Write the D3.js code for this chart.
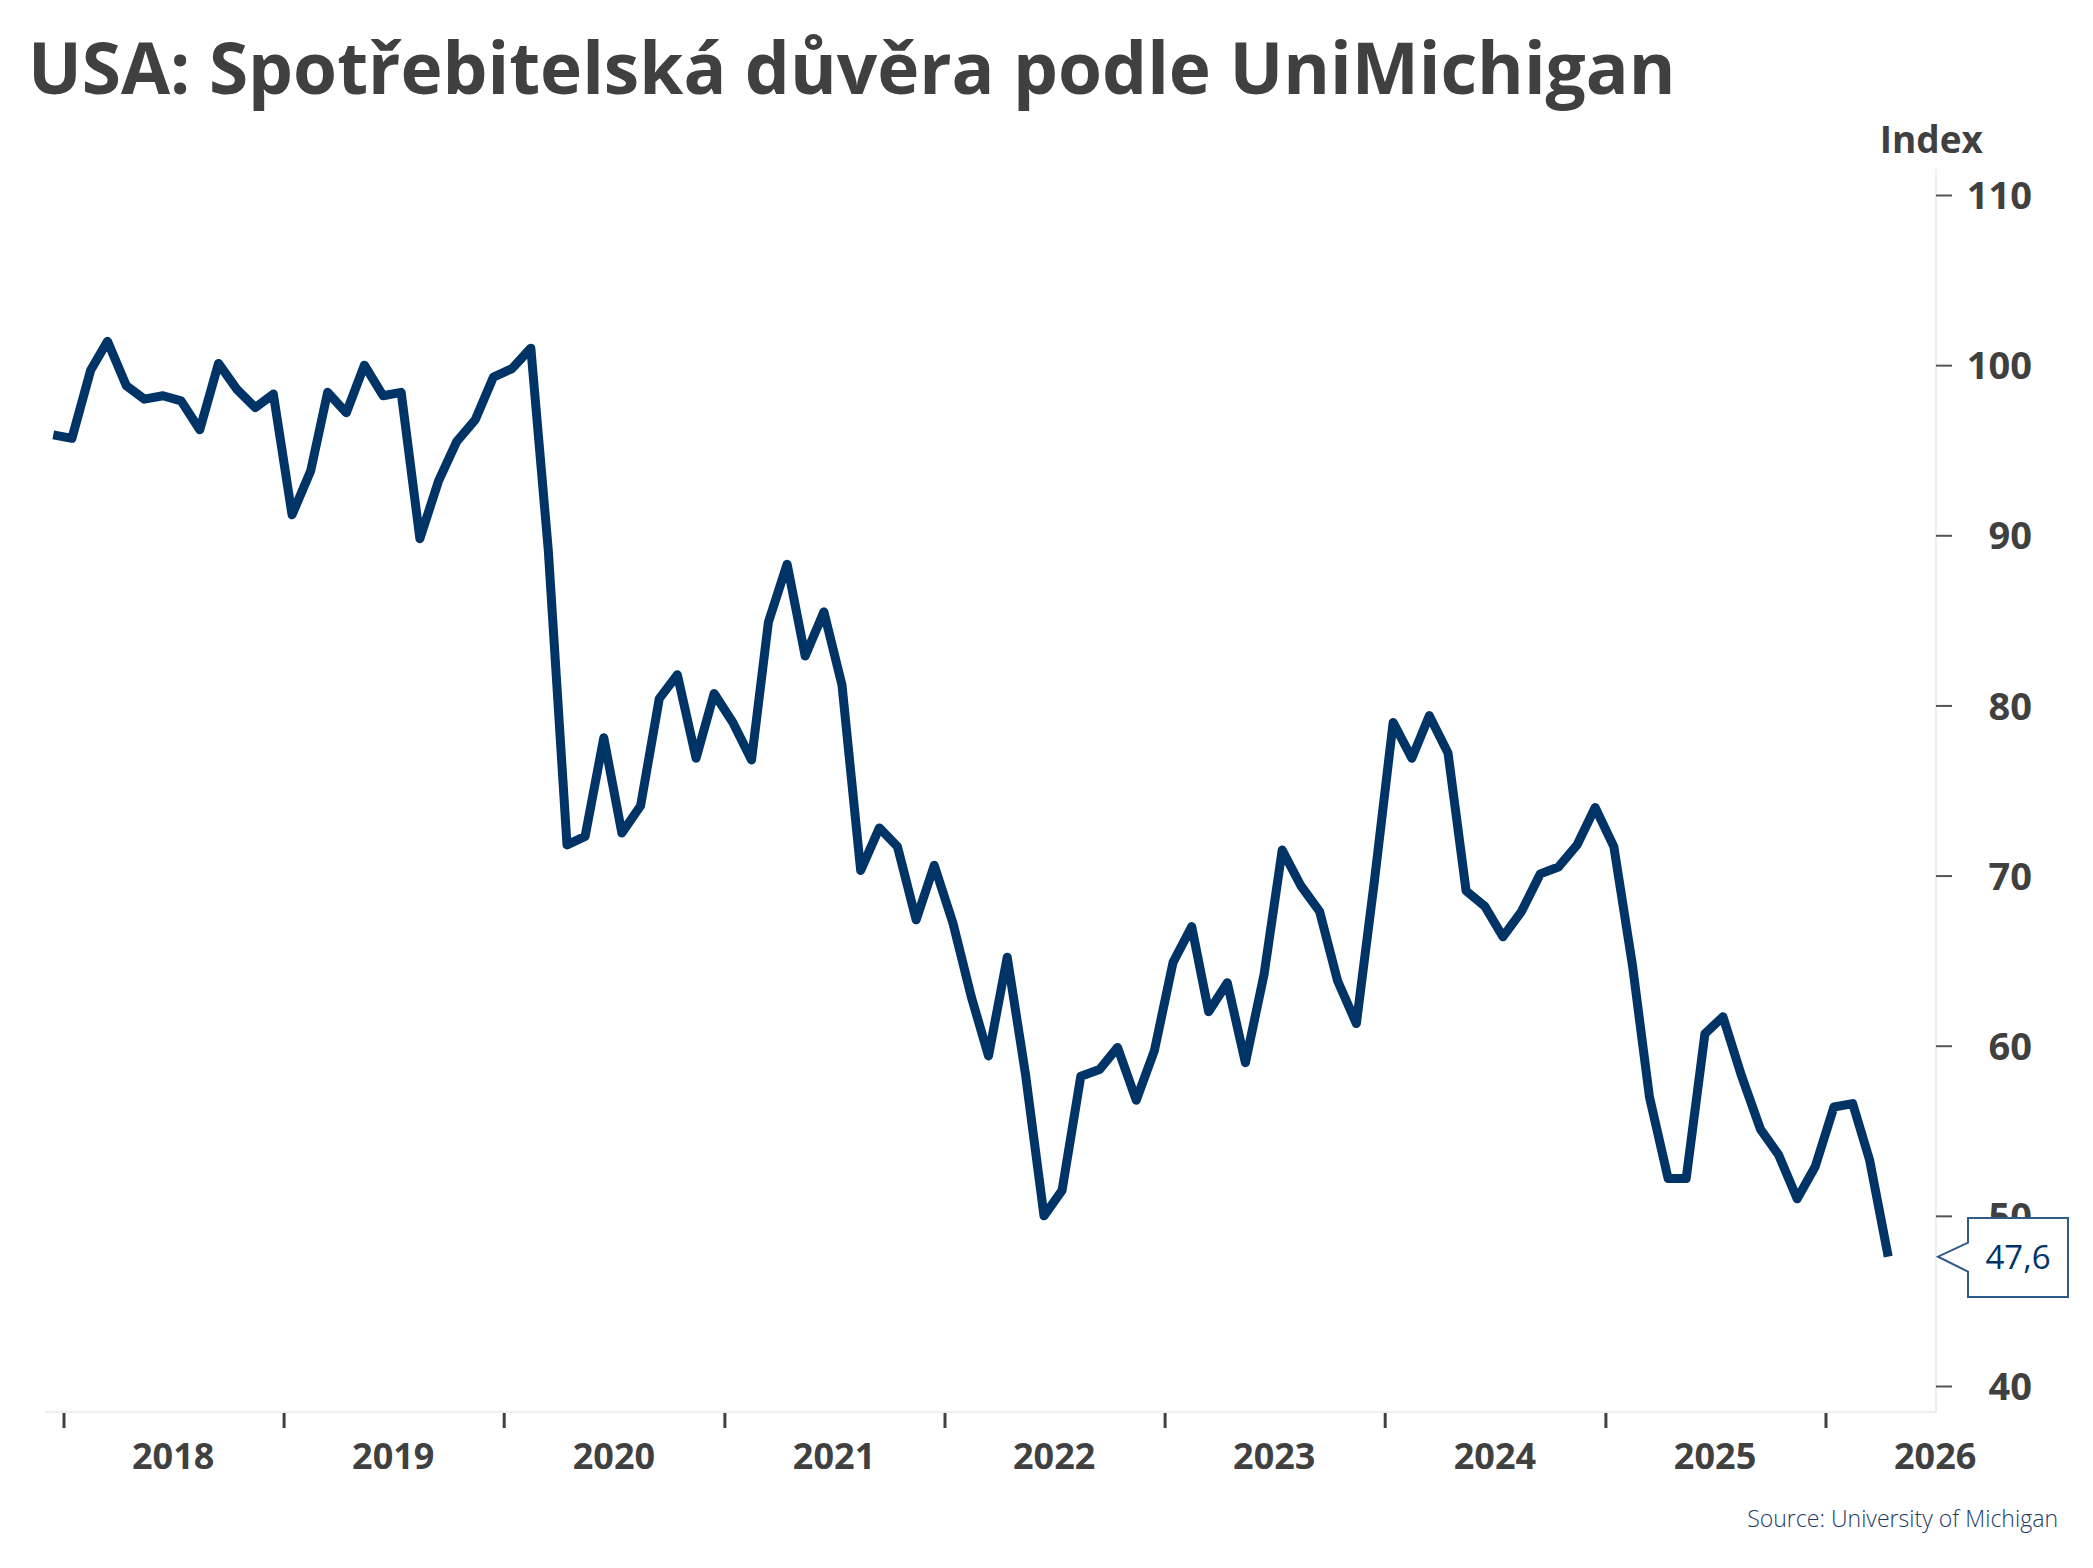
<!DOCTYPE html>
<html lang="cs">
<head>
<meta charset="utf-8">
<title>USA: Spotřebitelská důvěra podle UniMichigan</title>
<style>
  body { margin: 0; background: #fff; }
  svg { display: block; font-family: "Open Sans", "Noto Sans", sans-serif; }
  .axis path { stroke: #efefef; stroke-width: 2px; }
  .y-axis line { stroke: #555; stroke-width: 2px; }
  .x-axis line { stroke: #404040; stroke-width: 3px; }
  .axis text { fill: #404040; font-weight: 700; font-family: "Open Sans", "Noto Sans", sans-serif; }
  .line { fill: none; stroke: #003366; stroke-width: 9px; stroke-linejoin: round; }
</style>
</head>
<body>
<svg width="2093" height="1568"></svg>
<script src="https://cdn.jsdelivr.net/npm/d3@7/dist/d3.min.js"></script>
<script>
// monthly index, Dec 2017 .. Apr 2026
const startMonth = [2017, 11];
const values = [
  95.9,
  95.7, 99.7, 101.4, 98.8, 98.0, 98.2, 97.9, 96.2, 100.1, 98.6, 97.5, 98.3,
  91.2, 93.8, 98.4, 97.2, 100.0, 98.2, 98.4, 89.8, 93.2, 95.5, 96.8, 99.3,
  99.8, 101.0, 89.1, 71.8, 72.3, 78.1, 72.5, 74.1, 80.4, 81.8, 76.9, 80.7,
  79.0, 76.8, 84.9, 88.3, 82.9, 85.5, 81.2, 70.3, 72.8, 71.7, 67.4, 70.6,
  67.2, 62.8, 59.4, 65.2, 58.4, 50.0, 51.5, 58.2, 58.6, 59.9, 56.8, 59.7,
  64.9, 67.0, 62.0, 63.7, 59.0, 64.2, 71.5, 69.4, 67.9, 63.8, 61.3, 69.7,
  79.0, 76.9, 79.4, 77.2, 69.1, 68.2, 66.4, 67.9, 70.1, 70.5, 71.8, 74.0,
  71.7, 64.7, 57.0, 52.2, 52.2, 60.7, 61.7, 58.2, 55.1, 53.6, 51.0, 52.9,
  56.4, 56.6, 53.3, 47.6
];
const years = [2018, 2019, 2020, 2021, 2022, 2023, 2024, 2025, 2026];
const yTicks = [40, 50, 60, 70, 80, 90, 100, 110];
const lastLabel = "47,6";

const data = values.map((v, i) => ({
  date: new Date(startMonth[0], startMonth[1] + i, 15),
  value: v
}));

const svg = d3.select("svg");

// plot area
const plotLeft = 45, plotRight = 1936, plotTop = 169, plotBottom = 1412;

const x = d3.scaleTime()
  .domain([new Date(2018, 0, 1), new Date(2026, 0, 1)])
  .range([63.5, 1825.5]);
const y = d3.scaleLinear().domain([40, 110]).range([1386, 195]);

// frame: bottom and right
svg.append("path")
  .attr("d", `M${plotLeft},${plotBottom}H${plotRight}V${plotTop}`)
  .attr("fill", "none")
  .attr("stroke", "#efefef")
  .attr("stroke-width", 2);

// x ticks at year boundaries
const xAxis = svg.append("g")
  .attr("class", "axis x-axis")
  .attr("transform", `translate(0,${plotBottom + 1})`)
  .call(d3.axisBottom(x)
    .tickValues(years.map(yr => new Date(yr, 0, 1)))
    .tickSize(15)
    .tickFormat(""));
xAxis.select(".domain").remove();

// x labels at mid-year
const xLab = svg.append("g")
  .attr("class", "axis")
  .attr("transform", `translate(0,${plotBottom})`)
  .call(d3.axisBottom(x)
    .tickValues(years.map(yr => new Date(yr, 6, 1)))
    .tickSize(0)
    .tickPadding(0)
    .tickFormat(d3.timeFormat("%Y")));
xLab.attr("font-family", null);
xLab.select(".domain").remove();
xLab.selectAll("text")
  .attr("dy", null)
  .attr("y", 57)
  .style("font-size", "36px");

// y axis on the right
const yAxis = svg.append("g")
  .attr("class", "axis y-axis")
  .attr("transform", `translate(${plotRight},0)`)
  .call(d3.axisRight(y).tickValues(yTicks).tickSize(16));
yAxis.attr("font-family", null);
yAxis.select(".domain").remove();
yAxis.selectAll("text")
  .attr("x", 96)
  .attr("dy", "0.36em")
  .attr("text-anchor", "end")
  .style("font-size", "38px");

svg.append("text")
  .attr("x", 1983).attr("y", 153)
  .attr("text-anchor", "end")
  .attr("fill", "#404040")
  .style("font-weight", 700)
  .style("font-size", "37px")
  .text("Index");

// line
svg.append("path")
  .datum(data)
  .attr("class", "line")
  .attr("d", d3.line().x(d => x(d.date)).y(d => y(d.value)));

// last value callout
const last = data[data.length - 1];
const ty = y(last.value);
const bx0 = 1968, bx1 = 2068, by0 = 1218, by1 = 1297;
svg.append("path")
  .attr("d", `M${bx0},${by0}H${bx1}V${by1}H${bx0}V${ty + 15}L${plotRight + 2},${ty}L${bx0},${ty - 14}Z`)
  .attr("fill", "#fff")
  .attr("stroke", "#2f5a8a")
  .attr("stroke-width", 2);
svg.append("text")
  .attr("x", (bx0 + bx1) / 2).attr("y", ty + 12)
  .attr("text-anchor", "middle")
  .attr("fill", "#003366")
  .style("font-size", "33px")
  .text(lastLabel);

// title, sized to the reference width
const title = svg.append("text")
  .attr("x", 28).attr("y", 94)
  .attr("fill", "#404040")
  .style("font-weight", 700)
  .style("font-size", "74px")
  .text("USA: Spotřebitelská důvěra podle UniMichigan");
const tw = title.node().getComputedTextLength();
title.style("font-size", (74 * 1648 / tw) + "px");

// source
const src = svg.append("text")
  .attr("x", 2058).attr("y", 1527)
  .attr("text-anchor", "end")
  .attr("fill", "#1f3b66")
  .style("font-weight", 300)
  .style("font-size", "25px")
  .text("Source: University of Michigan");
const sw = src.node().getComputedTextLength();
src.style("font-size", Math.min(25, 25 * 311 / sw) + "px");
</script>
</body>
</html>
